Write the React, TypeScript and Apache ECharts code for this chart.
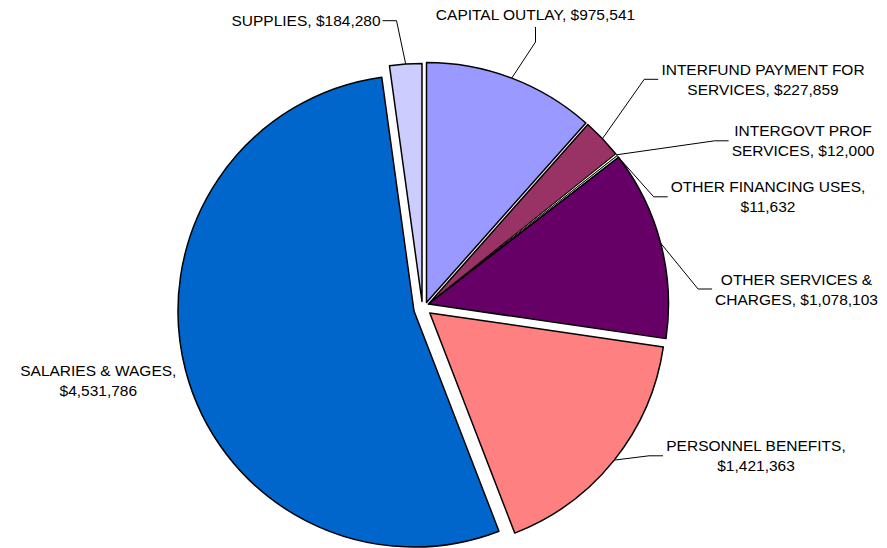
import React, { useEffect, useRef } from "react";
import * as echarts from "echarts";

// ---- data ----
const categories = [
  "CAPITAL OUTLAY",
  "INTERFUND PAYMENT FOR\nSERVICES",
  "INTERGOVT PROF\nSERVICES",
  "OTHER FINANCING USES",
  "OTHER SERVICES &\nCHARGES",
  "PERSONNEL BENEFITS",
  "SALARIES & WAGES",
  "SUPPLIES",
];
const values = [975541, 227859, 12000, 11632, 1078103, 1421363, 4531786, 184280];
const labelSeparators = [", $", ", $", ", $", ",\n$", ", $", ",\n$", ",\n$", ", $"];
const colors = ["#9999FF", "#993366", "#FFFFCC", "#CCFFFF", "#660066", "#FF8080", "#0066CC", "#CCCCFF"];

// ---- layout (positions / styles) ----
const W = 887;
const H = 548;
const SLICE_CENTERS: [number, number][] = [
  [426.5, 302.5],
  [428.5, 304],
  [428.5, 304],
  [428.5, 304],
  [428.5, 304],
  [429.8, 312.9],
  [414, 311],
  [422, 301.5],
];
const SLICE_RADII = [240, 240, 240, 240, 240, 236, 236, 238];
const BORDER_WIDTHS = [1.5, 1.5, 0.9, 0.9, 1.5, 1.5, 1.5, 1.5];
const LABEL_CENTERS: [number, number][] = [
  [535.5, 14],
  [763, 79.3],
  [803, 140.8],
  [768, 196.8],
  [796.5, 289],
  [756, 455.8],
  [98.3, 380],
  [306, 20],
];
const LEADERS = ["up", "right", "right", "right", "right", "right", "none", "left"];
const FONT = '"Liberation Sans", Arial, Helvetica, sans-serif';

function fmt(v: number) {
  return v.toLocaleString("en-US");
}

export default function App() {
  const ref = useRef<HTMLDivElement>(null);
  useEffect(() => {
    if (!ref.current) return;
    document.body.style.margin = "0";
    const chart = echarts.init(ref.current, null, { renderer: "svg" });
    const total = values.reduce((a, b) => a + b, 0);
    const cum: number[] = [];
    let acc = 0;
    values.forEach((v) => {
      cum.push(acc + v / 2);
      acc += v;
    });

    const series = categories.map((name, i) => {
      const [cx, cy] = SLICE_CENTERS[i];
      const r = SLICE_RADII[i];
      const midRad = (cum[i] / total) * Math.PI * 2;
      return {
        type: "pie",
        name,
        center: [cx, cy],
        radius: [0, r],
        startAngle: 90,
        clockwise: true,
        avoidLabelOverlap: false,
        silent: true,
        minShowLabelAngle: 0,
        emphasis: { disabled: true },
        label: {
          show: true,
          position: "outside",
          overflow: "none",
          fontFamily: FONT,
          fontSize: 15.5,
          lineHeight: 20,
          color: "#000",
          align: "center",
          formatter: (p: any) => `${p.name}${labelSeparators[p.dataIndex]}${fmt(p.value)}`,
        },
        labelLine: {
          show: LEADERS[i] !== "none",
          length: 10,
          length2: 10,
          lineStyle: { color: "#000", width: 1 },
        },
        labelLayout: (params: any) => {
          if (params.dataIndex !== i) return {};
          const [lx, ly] = LABEL_CENTERS[i];
          const w = params.labelRect.width;
          const h = params.labelRect.height;
          const p0 =
            params.labelLinePoints && params.labelLinePoints[0]
              ? [params.labelLinePoints[0][0], params.labelLinePoints[0][1]]
              : [cx + r * Math.sin(midRad), cy - r * Math.cos(midRad)];
          let pts: number[][] | undefined;
          if (LEADERS[i] === "up") {
            const ey = ly + h / 2 + 3;
            pts = [p0, [lx, ey + 15], [lx, ey]];
          } else if (LEADERS[i] === "right") {
            const ex = lx - w / 2 - 3;
            pts = [p0, [ex - 14, ly], [ex, ly]];
          } else if (LEADERS[i] === "left") {
            const ex = lx + w / 2 + 2;
            pts = [p0, [ex + 14, ly + 0.7], [ex, ly + 0.7]];
          }
          const out: any = { x: lx, y: ly, align: "center", verticalAlign: "middle" };
          if (pts) out.labelLinePoints = pts;
          return out;
        },
        data: values.map((v, j) =>
          j === i
            ? {
                value: v,
                name: categories[j],
                itemStyle: { color: colors[j], borderColor: "#000", borderWidth: BORDER_WIDTHS[j] },
              }
            : {
                value: v,
                name: categories[j],
                itemStyle: { color: "transparent", borderWidth: 0 },
                label: { show: false },
                labelLine: { show: false },
              }
        ),
      };
    });

    chart.setOption({
      animation: false,
      backgroundColor: "#ffffff",
      tooltip: { show: false },
      series,
    } as any);
    return () => chart.dispose();
  }, []);
  return <div ref={ref} style={{ width: W, height: H, background: "#fff" }} />;
}
